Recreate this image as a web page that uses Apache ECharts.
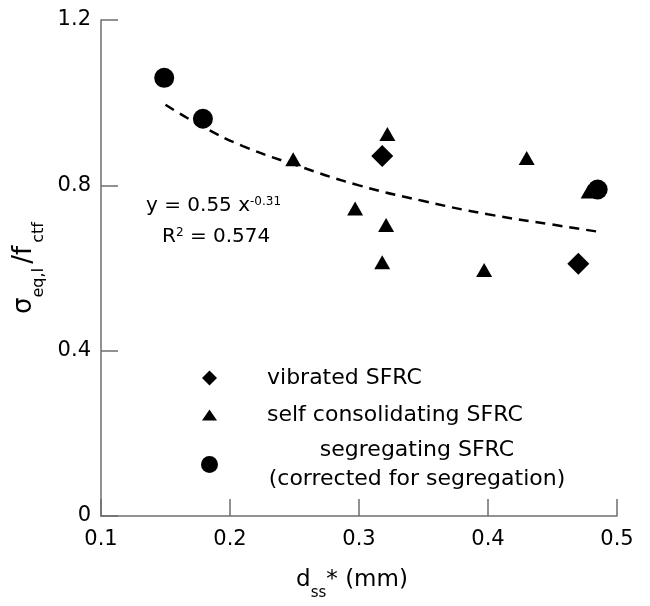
<!DOCTYPE html>
<html>
<head>
<meta charset="utf-8">
<script src="https://cdn.jsdelivr.net/npm/echarts@6/dist/echarts.min.js"></script>
<style>html,body{margin:0;padding:0;background:#fff}#c{width:650px;height:606px}</style>
</head>
<body>
<div id="c"></div>
<script>
// ---- data ----
var vibratedX = [0.318, 0.470];
var vibratedY = [0.871, 0.610];
var selfConsX = [0.249, 0.297, 0.318, 0.321, 0.322, 0.397, 0.430, 0.478];
var selfConsY = [0.863, 0.744, 0.614, 0.704, 0.924, 0.595, 0.866, 0.785];
var segregX = [0.149, 0.179, 0.485];
var segregY = [1.060, 0.961, 0.790];
var trendX = [0.15, 0.18, 0.21, 0.25, 0.30, 0.35, 0.40, 0.45, 0.485];
var trendY = [0.995, 0.940, 0.895, 0.850, 0.800, 0.762, 0.730, 0.705, 0.688];
var xTicks = [0.1, 0.2, 0.3, 0.4, 0.5];
var yTicks = [0, 0.4, 0.8, 1.2];
var legendNames = ['vibrated SFRC', 'self consolidating SFRC', 'segregating SFRC'];

function zip(a, b) { return a.map(function (v, i) { return [v, b[i]]; }); }

var chart = echarts.init(document.getElementById('c'), null, { renderer: 'canvas' });
var axisCol = '#6e6e6e';
var tickFont = 'DejaVu Sans';
var textFont = 'DejaVu Sans';

chart.setOption({
  animation: false,
  backgroundColor: '#ffffff',
  grid: { left: 101, right: 33, top: 20, bottom: 76, containLabel: false },
  xAxis: {
    type: 'value', min: 0.1, max: 0.5, interval: 0.1,
    axisLine: { show: true, onZero: false, lineStyle: { color: axisCol, width: 1.5 } },
    axisTick: { show: true, inside: true, length: 17, lineStyle: { color: axisCol, width: 1.5 } },
    splitLine: { show: false },
    axisLabel: {
      margin: 13, color: '#000', fontFamily: tickFont, fontSize: 21,
      formatter: function (v) { var r = Math.round(v * 10) / 10; return xTicks.indexOf(r) >= 0 ? r.toFixed(1) : ''; }
    },
    name: '{n|d}{s|ss}{n|* (mm)}', nameLocation: 'middle', nameGap: 53,
    nameTextStyle: { padding: [0, 14, 0, 0], rich: {
      n: { fontFamily: textFont, fontSize: 23, color: '#000' },
      s: { fontFamily: textFont, fontSize: 15, color: '#000', verticalAlign: 'bottom', padding: [0, 0, -9, 0] }
    } }
  },
  yAxis: {
    type: 'value', min: 0, max: 1.2, interval: 0.4,
    axisLine: { show: true, onZero: false, lineStyle: { color: axisCol, width: 1.5 } },
    axisTick: { show: true, inside: true, length: 17, lineStyle: { color: axisCol, width: 1.5 } },
    splitLine: { show: false },
    axisLabel: {
      margin: 10, color: '#000', fontFamily: tickFont, fontSize: 21,
      formatter: function (v) { var r = Math.round(v * 10) / 10; return yTicks.indexOf(r) < 0 ? '' : (r === 0 ? '0' : r.toFixed(1)); }
    },
    name: '{n|σ}{s|eq,I}{m|/f}{s|ctf}', nameLocation: 'middle', nameRotate: 90, nameGap: 56,
    nameTextStyle: { rich: {
      n: { fontFamily: textFont, fontSize: 26, color: '#000' },
      m: { fontFamily: textFont, fontSize: 26, color: '#000', padding: [0, 3, 0, 4] },
      s: { fontFamily: textFont, fontSize: 16, color: '#000', verticalAlign: 'bottom', padding: [0, 0, -9, 0] }
    } }
  },
  legend: [
    { data: [{ name: legendNames[0], icon: 'diamond' }], left: 197, top: 360, itemWidth: 15, itemHeight: 15,
      textStyle: { fontFamily: textFont, fontSize: 22, lineHeight: 26, color: '#000', padding: [0, 0, 0, 45] } },
    { data: [{ name: legendNames[1], icon: 'triangle' }], left: 197, top: 397, itemWidth: 15, itemHeight: 11,
      textStyle: { fontFamily: textFont, fontSize: 22, lineHeight: 26, color: '#000', padding: [0, 0, 0, 45] } },
    { data: [{ name: legendNames[2], icon: 'circle' }], left: 196, top: 434, itemWidth: 17, itemHeight: 17,
      formatter: function () { return '{c|segregating SFRC}\n{c|(corrected for segregation)}'; },
      textStyle: { fontFamily: textFont, fontSize: 22, color: '#000', padding: [0, 0, 0, 44],
        rich: { c: { fontFamily: textFont, fontSize: 22, color: '#000', width: 300, align: 'center', lineHeight: 29 } } } }
  ],
  graphic: [
    { type: 'text', left: 146, top: 196, style: { rich: {
        n: { fontFamily: textFont, fontSize: 20, fill: '#000' },
        p: { fontFamily: textFont, fontSize: 12, fill: '#000', verticalAlign: 'top', padding: [0, 0, 8, 0] } },
        text: '{n|y = 0.55 x}{p|-0.31}' } },
    { type: 'text', left: 162, top: 227, style: { rich: {
        n: { fontFamily: textFont, fontSize: 20, fill: '#000' },
        p: { fontFamily: textFont, fontSize: 12, fill: '#000', verticalAlign: 'top', padding: [0, 0, 8, 0] } },
        text: '{n|R}{p|2}{n| = 0.574}' } }
  ],
  series: [
    { name: 'trend', type: 'line', data: zip(trendX, trendY), smooth: true, showSymbol: false, symbol: 'none',
      lineStyle: { color: '#000', width: 2.5, type: [10, 7] }, z: 1, silent: true },
    { name: legendNames[0], type: 'scatter', data: zip(vibratedX, vibratedY), symbol: 'diamond',
      symbolSize: [22, 22], itemStyle: { color: '#000', opacity: 1 }, z: 3 },
    { name: legendNames[1], type: 'scatter', data: zip(selfConsX, selfConsY), symbol: 'triangle',
      symbolSize: [16, 14], itemStyle: { color: '#000', opacity: 1 }, z: 3 },
    { name: legendNames[2], type: 'scatter', data: zip(segregX, segregY), symbol: 'circle',
      symbolSize: 20, itemStyle: { color: '#000', opacity: 1 }, z: 3 }
  ]
});
</script>
</body>
</html>
